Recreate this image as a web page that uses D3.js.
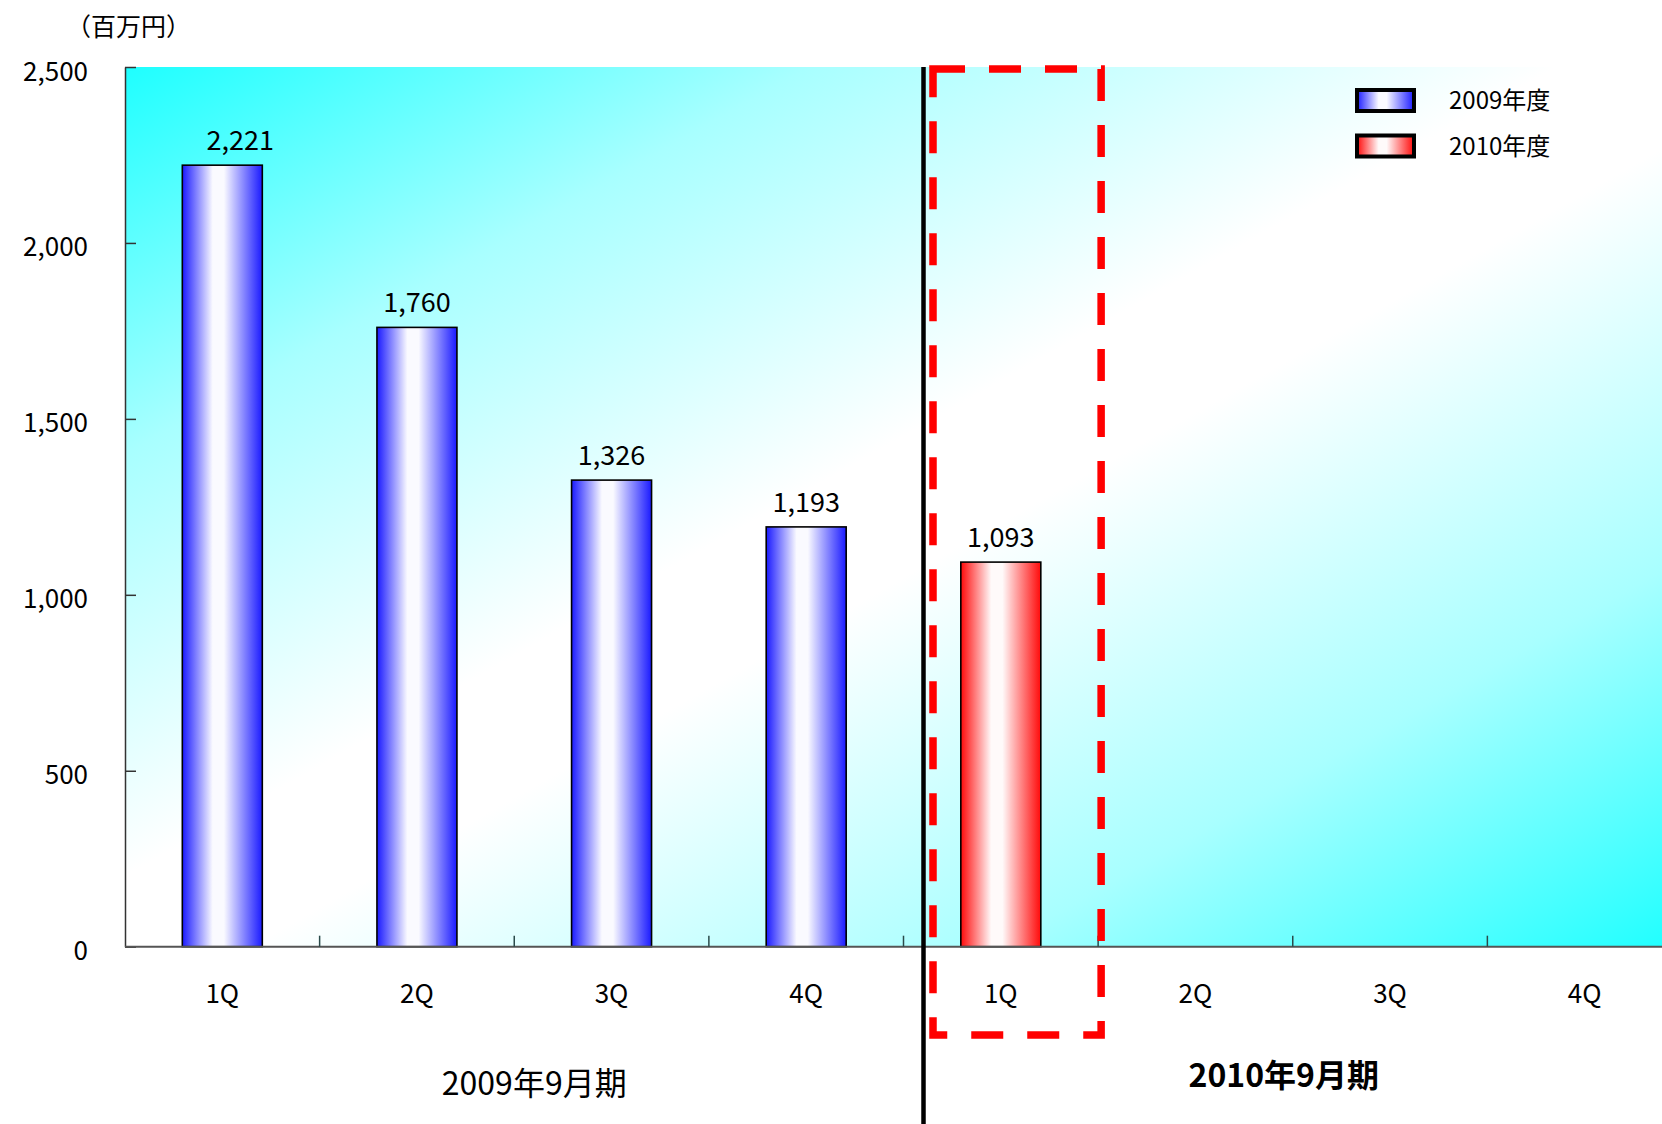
<!DOCTYPE html>
<html>
<head>
<meta charset="utf-8">
<script src="https://cdn.jsdelivr.net/npm/d3@7"></script>
<style>
  html, body { margin: 0; padding: 0; background: #fff; }
  svg { display: block; }
  text { font-family: "Noto Sans CJK JP", "Noto Sans", sans-serif; fill: #000; }
</style>
</head>
<body>
<svg id="chart" width="1662" height="1124"></svg>
<script>
// ---- data ----
const quarterLabels = ["1Q", "2Q", "3Q", "4Q", "1Q", "2Q", "3Q", "4Q"];
const periodLabels = ["2009年9月期", "2010年9月期"];
const seriesNames = ["2009年度", "2010年度"];
const values2009 = [2221, 1760, 1326, 1193];
const values2010 = [1093];
const yTicks = [0, 500, 1000, 1500, 2000, 2500];
const unitLabel = "（百万円）";

// ---- layout ----
const W = 1662, H = 1124;
const plotLeft = 125, plotTop = 67, plotBottom = 946.7, plotRight = 1682;

const svg = d3.select("#chart");
const defs = svg.append("defs");

// background gradient
const bg = defs.append("linearGradient").attr("id", "bgGrad")
  .attr("x1", 0).attr("y1", 0).attr("x2", 1).attr("y2", 1);
[[0, "#1effff"], [22, "#a8ffff"], [46, "#ffffff"], [54, "#ffffff"], [78, "#a8ffff"], [100, "#1effff"]]
  .forEach(([o, c]) => bg.append("stop").attr("offset", o + "%").attr("stop-color", c));

function barGrad(id, edge, mid) {
  const g = defs.append("linearGradient").attr("id", id)
    .attr("x1", 0).attr("y1", 0).attr("x2", 1).attr("y2", 0);
  g.append("stop").attr("offset", "0%").attr("stop-color", edge);
  g.append("stop").attr("offset", "38%").attr("stop-color", mid);
  g.append("stop").attr("offset", "52%").attr("stop-color", mid);
  g.append("stop").attr("offset", "100%").attr("stop-color", edge);
}
barGrad("blueGrad", "#1a1aff", "#fafaff");
barGrad("redGrad", "#ff0a0a", "#fffafa");

const keys = quarterLabels.map((q, i) => (i < 4 ? "2009-" : "2010-") + q);
const x = d3.scaleBand().domain(keys).range([plotLeft, plotRight])
  .paddingInner(0.589).paddingOuter(0.2945);
const y = d3.scaleLinear().domain([0, 2500]).range([plotBottom, plotTop]);
const step = x.step();

// plot background
svg.append("rect")
  .attr("x", plotLeft).attr("y", plotTop)
  .attr("width", plotRight - plotLeft).attr("height", plotBottom - plotTop)
  .attr("fill", "url(#bgGrad)");

// bars
const bars = values2009.map((v, i) => ({ key: keys[i], v, s: 0 }))
  .concat(values2010.map((v, i) => ({ key: keys[4 + i], v, s: 1 })));

svg.append("g").selectAll("rect").data(bars).join("rect")
  .attr("x", d => x(d.key)).attr("y", d => y(d.v))
  .attr("width", x.bandwidth()).attr("height", d => y(0) - y(d.v))
  .attr("fill", d => d.s === 0 ? "url(#blueGrad)" : "url(#redGrad)")
  .attr("stroke", "#000").attr("stroke-width", 1.6);

svg.append("g").selectAll("text").data(bars).join("text")
  .attr("x", d => x(d.key) + x.bandwidth() / 2 + (d.key === keys[0] ? 18 : 0))
  .attr("y", d => y(d.v) - 15)
  .attr("text-anchor", "middle")
  .attr("font-size", 27)
  .text(d => d3.format(",")(d.v));

// y axis
const yAxis = d3.axisLeft(y).tickValues(yTicks).tickSizeInner(-11).tickSizeOuter(0)
  .tickFormat(d3.format(","));
const gy = svg.append("g").attr("transform", `translate(${plotLeft},0)`).call(yAxis);
gy.select(".domain").attr("stroke", "#333").attr("stroke-width", 1.5);
gy.selectAll(".tick line").attr("stroke", "#333").attr("stroke-width", 1.5);
gy.selectAll(".tick text")
  .attr("x", -37).attr("dy", "0.5em")
  .attr("font-size", 26).attr("font-family", "Noto Sans CJK JP").attr("fill", "#000");

// x axis line and boundary ticks
svg.append("line")
  .attr("x1", plotLeft).attr("x2", plotRight)
  .attr("y1", plotBottom).attr("y2", plotBottom)
  .attr("stroke", "#555").attr("stroke-width", 2);
const boundaries = d3.range(1, keys.length).map(i => plotLeft + i * step);
svg.append("g").selectAll("line").data(boundaries).join("line")
  .attr("x1", d => d).attr("x2", d => d)
  .attr("y1", plotBottom).attr("y2", plotBottom - 11)
  .attr("stroke", "#2a4a4a").attr("stroke-width", 1.5);

// x category labels
svg.append("g").selectAll("text").data(keys).join("text")
  .attr("x", d => x(d) + x.bandwidth() / 2)
  .attr("y", 1003)
  .attr("text-anchor", "middle")
  .attr("font-size", 26)
  .text((d, i) => quarterLabels[i]);

// period labels
const mid2009 = (x(keys[0]) + x(keys[3]) + x.bandwidth()) / 2;
const mid2010 = (x(keys[4]) + x(keys[7]) + x.bandwidth()) / 2;
svg.append("text").attr("x", mid2009 + 20).attr("y", 1095)
  .attr("text-anchor", "middle").attr("font-size", 32)
  .text(periodLabels[0]);
svg.append("text").attr("x", mid2010 - 9).attr("y", 1087)
  .attr("text-anchor", "middle").attr("font-size", 32).attr("font-weight", "bold")
  .text(periodLabels[1]);

// separator line
const sepX = plotLeft + 4 * step + 20;
svg.append("line")
  .attr("x1", sepX).attr("x2", sepX).attr("y1", plotTop).attr("y2", H)
  .attr("stroke", "#000").attr("stroke-width", 4.5);

// red dashed highlight box
const boxL = plotLeft + 4 * step + 29.5, boxR = plotLeft + 5 * step + 3;
svg.append("rect")
  .attr("x", boxL).attr("y", 69)
  .attr("width", boxR - boxL).attr("height", 1035 - 69)
  .attr("fill", "none").attr("stroke", "#ff0000").attr("stroke-width", 7.5)
  .attr("stroke-dasharray", "32,24");

// unit label
svg.append("text").attr("x", 66).attr("y", 36)
  .attr("font-size", 25).text(unitLabel);

// legend
const legend = svg.append("g");
const legendFills = ["url(#blueGrad)", "url(#redGrad)"];
seriesNames.forEach((name, i) => {
  const ly = 90 + i * 45.5;
  legend.append("rect")
    .attr("x", 1357).attr("y", ly).attr("width", 57).attr("height", 21)
    .attr("fill", legendFills[i]).attr("stroke", "#000").attr("stroke-width", 4);
  legend.append("text")
    .attr("x", 1449).attr("y", ly + 19)
    .attr("font-size", 24).text(name);
});
</script>
</body>
</html>
